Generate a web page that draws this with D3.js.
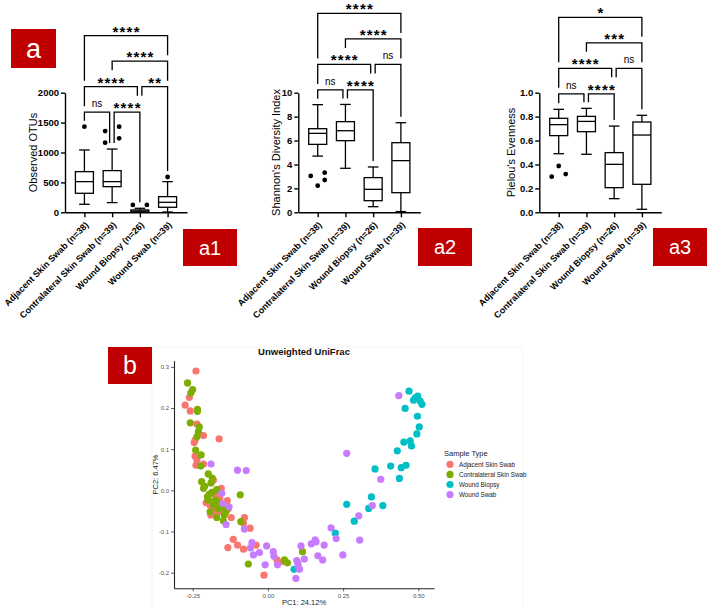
<!DOCTYPE html>
<html><head><meta charset="utf-8">
<script src="https://cdn.jsdelivr.net/npm/d3@7"></script>
<style>body{margin:0;background:#fff}svg{display:block;font-family:"Liberation Sans",Arial,sans-serif}</style>
</head><body><svg id="c" width="708" height="608"></svg>
<script>
// ---------------- DATA ----------------
const categories = ["Adjacent Skin Swab (n=38)", "Contralateral Skin Swab (n=39)", "Wound Biopsy (n=26)", "Wound Swab (n=39)"];
// box stats: [whisker low, Q1, median, Q3, whisker high]
const otusStats = [[134, 318, 513, 680, 1042], [162, 429, 513, 697, 1058], [3, 5, 22, 39, 67], [5, 84, 167, 262, 513]];
const otusOutliers = [[1432], [1359, 1164, 1432, 1237], [123, 123], [590]];
const shannonStats = [[4.7, 5.68, 6.6, 6.99, 9.0], [3.68, 5.99, 6.82, 7.58, 9.02], [0.47, 0.97, 1.92, 2.9, 3.79], [0.06, 1.64, 4.32, 5.82, 7.49]];
const shannonOutliers = [[3.04, 2.23, 3.31, 2.70], [], [], []];
const pielouStats = [[0.49, 0.641, 0.733, 0.786, 0.861], [0.485, 0.674, 0.760, 0.802, 0.869], [0.114, 0.206, 0.401, 0.499, 0.721], [0.025, 0.234, 0.646, 0.755, 0.811]];
const pielouOutliers = [[0.298, 0.387, 0.32], [], [], []];
const otusTicks = [0, 500, 1000, 1500, 2000];
const shannonTicks = [0, 2, 4, 6, 8, 10];
const pielouTicks = [0, 0.2, 0.4, 0.6, 0.8, 1.0];
const comparisonPairs = [[0, 1], [1, 2], [0, 2], [2, 3], [1, 3], [0, 3]];
const otusSignif = ["ns", "****", "****", "**", "****", "****"];
const shannonSignif = ["ns", "****", "****", "ns", "****", "****"];
const pielouSignif = ["ns", "****", "****", "ns", "***", "*"];

const sampleTypes = ["Adjacent Skin Swab", "Contralateral Skin Swab", "Wound Biopsy", "Wound Swab"];
const adjacentSkinSwab = [[-0.239,0.290],[-0.261,0.226],[-0.275,0.207],[-0.258,0.193],[-0.236,0.161],[-0.214,0.133],[-0.242,0.122],[-0.245,0.116],[-0.162,0.125],[-0.242,0.083],[-0.236,0.074],[-0.239,0.061],[-0.214,0.064],
  [-0.181,0.025],[-0.192,-0.036],[-0.179,-0.046],[-0.164,-0.052],[-0.183,-0.056],[-0.135,-0.025],[-0.131,-0.044],[-0.122,-0.066],[-0.078,-0.066],[-0.081,-0.080],[-0.059,-0.092],[-0.115,-0.119],[-0.101,-0.133],[-0.081,-0.143],[-0.133,-0.139],[-0.039,-0.133],[0.030,-0.169],[-0.013,-0.206],[0.051,-0.173],[-0.150,-0.048],
  [-0.175,-0.010],[-0.160,-0.020],[-0.205,-0.030],[-0.155,0.005],[-0.190,-0.060]];
const contralateralSkinSwab = [[-0.267,0.261],[-0.250,0.245],[-0.256,0.237],[-0.234,0.197],[-0.234,0.192],[-0.258,0.164],[-0.228,0.154],[-0.231,0.142],[-0.236,0.130],[-0.240,0.098],[-0.222,0.086],[-0.223,0.059],
  [-0.198,0.040],[-0.220,0.021],[-0.214,0.005],[-0.189,0.018],[-0.170,0.002],[-0.186,-0.005],[-0.201,-0.016],[-0.175,-0.024],[-0.164,-0.030],[-0.198,-0.024],[-0.092,-0.011],[-0.146,-0.040],[-0.170,-0.066],[-0.148,-0.074],[-0.090,-0.076],[-0.065,-0.179],[0.055,-0.169],[0.065,-0.176],[0.115,-0.149],[-0.192,-0.052],[-0.139,-0.052],
  [-0.180,-0.035],[-0.165,-0.045],[-0.210,0.010],[-0.145,-0.060],[-0.185,0.030],[-0.195,-0.010]];
const woundBiopsy = [[0.224,-0.104],[0.262,-0.034],[0.087,-0.192],
  [0.469,0.241],[0.498,0.229],[0.484,0.219],[0.506,0.217],[0.512,0.209],[0.456,0.199],[0.497,0.180],[0.503,0.154],[0.495,0.137],[0.452,0.117],[0.473,0.120],[0.477,0.108],[0.430,0.096],[0.408,0.059],[0.443,0.055],[0.459,0.061],[0.356,0.052],[0.437,0.029],
  [0.344,-0.016],[0.335,-0.044],[0.382,-0.037],[0.287,-0.075],[0.490,0.225]];
const woundSwab = [[-0.189,0.064],[-0.101,0.049],[-0.072,0.048],[0.262,0.090],
  [-0.153,-0.007],[-0.129,-0.040],[-0.139,-0.083],[-0.078,-0.094],[-0.053,-0.127],[-0.048,-0.157],[-0.028,-0.151],[-0.004,-0.135],[0.018,-0.149],[-0.009,-0.181],[0.032,-0.181],[0.096,-0.171],[0.101,-0.185],[0.105,-0.192],[0.093,-0.214],[0.110,-0.135],[0.121,-0.167],[0.144,-0.130],[0.157,-0.120],[0.166,-0.159],[0.182,-0.169],[0.187,-0.133],[0.210,-0.091],[0.227,-0.117],[0.249,-0.157],
  [0.435,0.230],[0.375,0.027],[0.347,-0.037],[0.302,-0.062],[0.305,-0.121],
  [0.100,-0.178],[-0.150,-0.032],[0.020,-0.160],[-0.058,-0.140],[0.160,-0.125]];
const pc1Ticks = [-0.25, 0, 0.25, 0.5];
const pc2Ticks = [-0.2, -0.1, 0, 0.1, 0.2, 0.3];

// ---------------- LAYOUT / STYLE ----------------
const outlierLanes = [[[0], [-1, -1, 1, 1], [-1, 1], [0]], [[-1, 0, 1, 1], [], [], []], [[-1, 0, 1], [], [], []]];
const bracketLevels = [0, 0, 1, 1, 2, 3];
const groupColors = ["#F8766D", "#7CAE00", "#00BFC4", "#C77CFF"];
const RED = "#c00000";

const svg = d3.select("#c");
svg.append("rect").attr("width", 708).attr("height", 608).attr("fill", "#fff");

function boxPanel(stats, outliers, lanes, ticks, fmt, signif, x0, title, titleX) {
  const g = svg.append("g");
  const x = d3.scalePoint().domain(categories).range([x0, x0 + 122]).padding(0.7);
  const y = d3.scaleLinear().domain([ticks[0], ticks[ticks.length - 1]]).range([212.3, 92.7]);
  const LW = 1.4;
  // y axis
  const ya = g.append("g").attr("transform", `translate(${x0},0)`)
    .call(d3.axisLeft(y).tickValues(ticks).tickFormat(fmt).tickSize(4).tickSizeOuter(0).tickPadding(2));
  ya.select(".domain").attr("stroke", "#000").attr("stroke-width", LW);
  ya.selectAll(".tick line").attr("stroke", "#000").attr("stroke-width", LW);
  ya.selectAll(".tick text").attr("font-size", 9.5).attr("font-weight", "bold").attr("fill", "#000")
    .attr("font-family", "Liberation Sans, Arial, sans-serif");
  // x axis
  const xa = g.append("g").attr("transform", `translate(0,212.3)`)
    .call(d3.axisBottom(x).tickSize(5).tickSizeOuter(0));
  xa.select(".domain").attr("stroke", "#000").attr("stroke-width", LW);
  xa.selectAll(".tick line").attr("stroke", "#000").attr("stroke-width", LW);
  xa.selectAll(".tick text").attr("font-size", 9).attr("font-weight", "bold").attr("fill", "#000")
    .attr("font-family", "Liberation Sans, Arial, sans-serif")
    .attr("text-anchor", "end").attr("x", 0).attr("y", 0).attr("dy", "0.35em")
    .attr("transform", "translate(2,11) rotate(-45)");
  // y title
  g.append("text").attr("transform", `translate(${titleX},152.5) rotate(-90)`)
    .attr("text-anchor", "middle").attr("dy", "0.35em").attr("font-size", 11).attr("fill", "#000").text(title);
  // boxes
  const bw = 9, cw = 5.3;
  stats.forEach((s, i) => {
    const cx = x(categories[i]);
    const bg = g.append("g").attr("stroke", "#000").attr("stroke-width", 1.3).attr("fill", "none");
    bg.append("rect").attr("x", cx - bw).attr("width", bw * 2).attr("y", y(s[3])).attr("height", y(s[1]) - y(s[3])).attr("fill", "#fff");
    bg.append("line").attr("x1", cx - bw).attr("x2", cx + bw).attr("y1", y(s[2])).attr("y2", y(s[2]));
    bg.append("line").attr("x1", cx).attr("x2", cx).attr("y1", y(s[3])).attr("y2", y(s[4]));
    bg.append("line").attr("x1", cx).attr("x2", cx).attr("y1", y(s[1])).attr("y2", y(s[0]));
    bg.append("line").attr("x1", cx - cw).attr("x2", cx + cw).attr("y1", y(s[4])).attr("y2", y(s[4]));
    bg.append("line").attr("x1", cx - cw).attr("x2", cx + cw).attr("y1", y(s[0])).attr("y2", y(s[0]));
    outliers[i].forEach((v, k) => {
      g.append("circle").attr("cx", cx + lanes[i][k] * 7).attr("cy", y(v)).attr("r", 2.4).attr("fill", "#000");
    });
  });
  // data top per group (whisker or centred outliers)
  const dataTop = stats.map((s, i) => {
    let m = s[4];
    outliers[i].forEach((v, k) => { if (lanes[i][k] === 0) m = Math.max(m, v); });
    return y(m);
  });
  const maxAll = d3.max(stats.map((s, i) => d3.max([s[4], ...outliers[i]])));
  const L0 = y(maxAll) - 14.5;
  // bracket geometry
  const br = comparisonPairs.map((p, j) => {
    const lev = bracketLevels[j];
    let lx = x(categories[p[0]]), rx = x(categories[p[1]]);
    comparisonPairs.forEach((q, k) => {
      if (k === j || bracketLevels[k] !== lev) return;
      if (q[1] === p[0]) lx += 2;
      if (q[0] === p[1]) rx -= 2.5;
    });
    const label = signif[j];
    const isStar = label[0] === "*";
    const tw = isStar ? label.length * 7 : 10;
    return { lx, rx, ly: L0 - 25.5 * lev, lev, label, isStar, tw, mid: (lx + rx) / 2, p };
  });
  function legEnd(b, lx, gi) {
    let e = dataTop[gi] - 6;
    br.forEach(o => {
      if (o.lev >= b.lev) return;
      if (lx >= o.lx - 3 && lx <= o.rx + 3) {
        e = Math.min(e, o.ly - 6);
        if (Math.abs(lx - o.mid) < o.tw / 2 + 2) e = Math.min(e, o.ly - 16.5);
      }
    });
    return e;
  }
  br.forEach(b => {
    const el = legEnd(b, b.lx, b.p[0]), er = legEnd(b, b.rx, b.p[1]);
    g.append("path").attr("d", `M${b.lx},${el}V${b.ly}H${b.rx}V${er}`)
      .attr("fill", "none").attr("stroke", "#000").attr("stroke-width", 1.3);
    const t = g.append("text").attr("x", b.mid).attr("text-anchor", "middle").text(b.label).attr("fill", "#000");
    if (b.isStar) t.attr("y", b.ly + 1).attr("font-size", 15).attr("font-weight", "bold").attr("letter-spacing", 1.2).attr("dx", 0.6);
    else t.attr("y", b.ly - 5).attr("font-size", 10);
  });
}

boxPanel(otusStats, otusOutliers, outlierLanes[0], otusTicks, d3.format("d"), otusSignif, 65, "Observed OTUs", 33);
boxPanel(shannonStats, shannonOutliers, outlierLanes[1], shannonTicks, d3.format("d"), shannonSignif, 298.3, "Shannon's Diversity Index", 276.5);
boxPanel(pielouStats, pielouOutliers, outlierLanes[2], pielouTicks, d => d.toFixed(1), pielouSignif, 539.3, "Pielou's Evenness", 511.5);

// red label boxes
function redBox(x, y, w, h, txt, fs) {
  svg.append("rect").attr("x", x).attr("y", y).attr("width", w).attr("height", h).attr("fill", RED);
  svg.append("text").attr("x", x + w / 2).attr("y", y + h / 2).attr("dy", "0.35em").attr("text-anchor", "middle")
    .attr("fill", "#fff").attr("font-size", fs).text(txt);
}
redBox(11, 29, 45, 39, "a", 27);
redBox(183, 229, 54, 37, "a1", 20);
redBox(418, 228, 54, 38, "a2", 20);
redBox(653, 228, 54, 38, "a3", 20);

// ---------------- PANEL B ----------------
svg.append("rect").attr("x", 152).attr("y", 347).attr("width", 371).attr("height", 262).attr("fill", "none").attr("stroke", "#f5f5f5");
redBox(108, 347, 44, 37, "b", 25);
const bx = d3.scaleLinear().domain([-0.312, 0.552]).range([174, 434]);
const by = d3.scaleLinear().domain([-0.238, 0.315]).range([588.3, 360.7]);
const pb = svg.append("g");
const xAx = pb.append("g").attr("transform", "translate(0,588.3)")
  .call(d3.axisBottom(bx).tickValues(pc1Ticks).tickFormat(d => d.toFixed(2)).tickSize(3).tickSizeOuter(0).tickPadding(2));
const yAx = pb.append("g").attr("transform", "translate(174,0)")
  .call(d3.axisLeft(by).tickValues(pc2Ticks).tickFormat(d => d.toFixed(1)).tickSize(3).tickSizeOuter(0).tickPadding(2));
[xAx, yAx].forEach(a => {
  a.select(".domain").attr("stroke", "#222").attr("stroke-width", 1.1);
  a.selectAll(".tick line").attr("stroke", "#333").attr("stroke-width", 0.8);
  a.selectAll(".tick text").attr("font-size", 6).attr("fill", "#555").attr("font-family", "Liberation Sans, Arial, sans-serif");
});
pb.append("text").attr("x", 304).attr("y", 355).attr("text-anchor", "middle").attr("font-size", 9.5).attr("font-weight", "bold").attr("fill", "#111").text("Unweighted UniFrac");
pb.append("text").attr("x", 304).attr("y", 604.5).attr("text-anchor", "middle").attr("font-size", 7.5).attr("fill", "#222").text("PC1: 24.12%");
pb.append("text").attr("transform", "translate(155,474.5) rotate(-90)").attr("text-anchor", "middle").attr("dy", "0.35em").attr("font-size", 7.5).attr("fill", "#222").text("PC2: 6.47%");
[adjacentSkinSwab, contralateralSkinSwab, woundBiopsy, woundSwab].forEach((pts, i) => {
  pb.append("g").selectAll("circle").data(pts).join("circle")
    .attr("cx", d => bx(d[0])).attr("cy", d => by(d[1])).attr("r", 3.6).attr("fill", groupColors[i]);
});
// legend
const lg = pb.append("g");
lg.append("text").attr("x", 444).attr("y", 456).attr("font-size", 7.5).attr("fill", "#222").text("Sample Type");
sampleTypes.forEach((s, i) => {
  const yy = 464.3 + 10.1 * i;
  lg.append("circle").attr("cx", 450).attr("cy", yy).attr("r", 3.6).attr("fill", groupColors[i]);
  lg.append("text").attr("x", 459).attr("y", yy).attr("dy", "0.35em").attr("font-size", 6.3).attr("fill", "#222").text(s);
});
</script></body></html>
